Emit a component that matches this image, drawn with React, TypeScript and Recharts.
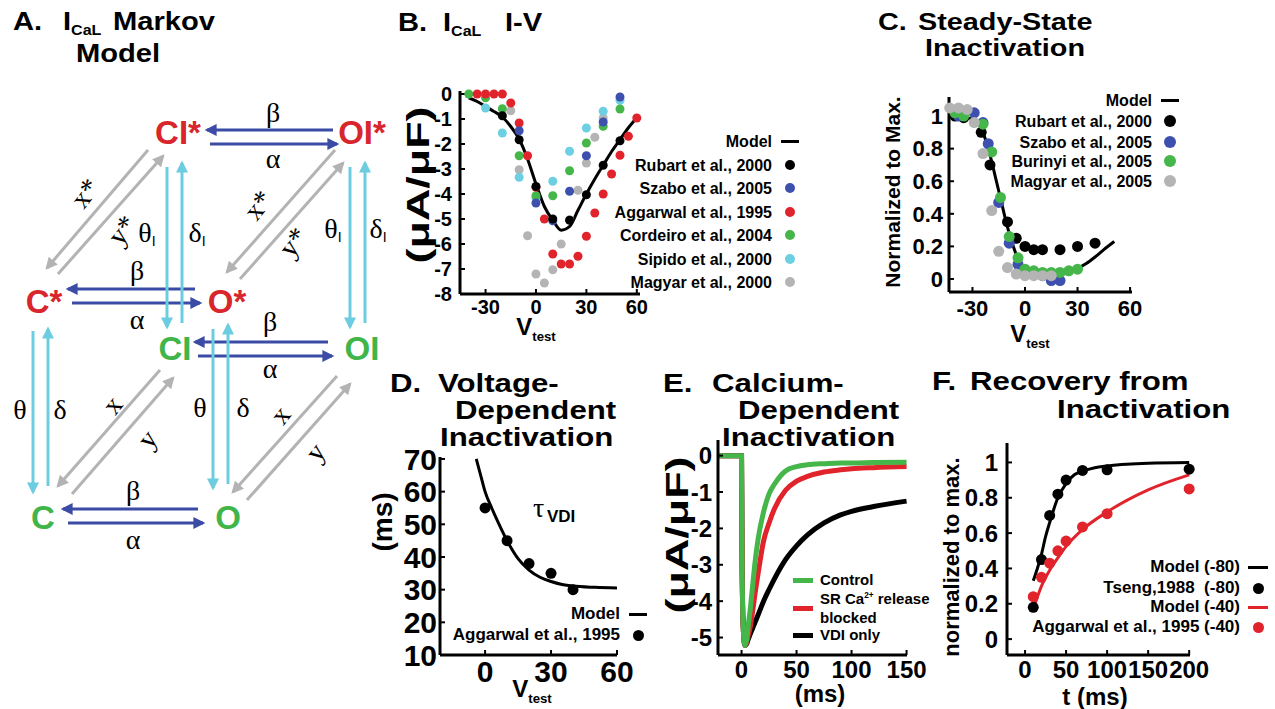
import React from 'react';
import { ComposedChart, Line, Scatter, XAxis, YAxis } from 'recharts';

const SANS = '"Liberation Sans", Arial, Helvetica, sans-serif';
const SERIF = '"Liberation Serif", "DejaVu Serif", Times, serif';

const INK = '#000000';
const RED = '#e1242b';
const BLUE = '#3e50ae';
const GREEN = '#45b649';
const CYAN = '#6ccfe2';
const GRAY = '#b4b4b4';
const ARROW_BLUE = '#3b4ca6';
const ARROW_GRAY = '#b3b3b3';
const ARROW_CYAN = '#6ccde0';
const NODE_RED = '#d8262c';
const NODE_GREEN = '#3fb54a';

// ---- B. ICaL I-V ----
const ivModelV = [-40, -35, -30, -25, -20, -15, -10, -5, 0, 5, 10, 15, 20, 25, 30, 35, 40, 45, 50, 55, 60];
const ivModelI = [-0.15, -0.3, -0.5, -0.7, -0.92, -1.3, -1.8, -2.6, -3.6, -4.5, -5.05, -5.45, -5.3, -4.65, -4.0, -3.4, -2.85, -2.3, -1.82, -1.35, -0.95];
const rubartV = [-20, -10, 0, 10, 20, 30, 40, 50];
const rubartI = [-0.87, -1.83, -3.7, -5.0, -5.05, -4.03, -2.85, -1.87];
const szaboV = [-10, 0, 10, 20, 30, 40, 50];
const szaboI = [-1.47, -4.36, -5.07, -3.89, -2.47, -1.12, -0.12];
const aggarwalV = [-35, -30, -25, -20, -15, -10, -5, 0, 5, 10, 15, 20, 25, 30, 35, 40, 45, 50, 55, 60];
const aggarwalI = [0, 0, 0, 0, -0.36, -1.16, -2.47, -3.73, -5.0, -6.4, -6.8, -6.8, -6.49, -5.69, -4.76, -4.0, -3.2, -2.45, -1.69, -0.96];
const cordeiroV = [-40, -30, -20, -10, 0, 10, 20, 30, 40, 50];
const cordeiroI = [0, -0.15, -0.59, -2.47, -4.07, -4.07, -3.07, -1.96, -1.29, -0.6];
const sipidoV = [-30, -20, -10, 0, 10, 20, 30, 40, 50];
const sipidoI = [-0.56, -1.56, -3.33, -4.16, -3.49, -2.29, -1.36, -0.69, -0.25];
const magyarIvV = [-15, -10, -5, 0, 5, 10, 15, 20, 25, 30, 35, 40];
const magyarIvI = [-0.67, -3.03, -5.67, -7.2, -7.56, -7.03, -6.0, -5.03, -3.85, -2.76, -1.73, -0.96];
const ivXTicks = [-30, 0, 30, 60];
const ivYTicks = [0, -1, -2, -3, -4, -5, -6, -7, -8];

// ---- C. Steady-state inactivation ----
const ssModelV = [-43, -35, -30, -27, -24, -21, -19, -17, -15, -13, -11, -9, -7, -5, -2, 0, 4, 8, 12, 16, 20, 25, 30, 35, 40, 45, 51];
const ssModelN = [1.0, 0.995, 0.98, 0.96, 0.9, 0.8, 0.72, 0.63, 0.54, 0.45, 0.36, 0.28, 0.21, 0.15, 0.085, 0.06, 0.03, 0.02, 0.015, 0.018, 0.025, 0.04, 0.065, 0.095, 0.135, 0.18, 0.23];
const ssRubartV = [-40, -35, -25, -20, -10, -5, 0, 5, 10, 20, 30, 40];
const ssRubartN = [1.0, 0.99, 0.9, 0.7, 0.35, 0.25, 0.2, 0.18, 0.18, 0.18, 0.2, 0.22];
const ssSzaboV = [-38, -29, -24, -21, -15, -9, -4, 0, 5, 10, 15, 20];
const ssSzaboN = [1.0, 1.02, 0.96, 0.83, 0.47, 0.22, 0.09, 0.05, 0.03, 0.02, -0.01, -0.01];
const ssBurinyiV = [-40, -35, -24, -19, -14, -9, -4, 0, 5, 10, 15, 20, 25, 30];
const ssBurinyiN = [1.02, 1.0, 0.95, 0.78, 0.5, 0.26, 0.13, 0.06, 0.05, 0.04, 0.04, 0.04, 0.05, 0.06];
const ssMagyarV = [-43, -38, -33, -29, -24, -19, -15, -10, -5, 0, 5, 10, 15];
const ssMagyarN = [1.05, 1.05, 1.04, 0.96, 0.77, 0.42, 0.17, 0.07, 0.03, 0.02, 0.02, 0.02, 0.02];
const ssXTicks = [-30, 0, 30, 60];
const ssYTicks = [0, 0.2, 0.4, 0.6, 0.8, 1];

// ---- D. Voltage-dependent inactivation ----
const vdiModelV = [-4, -2, 0, 3, 6, 10, 15, 20, 25, 30, 35, 40, 50, 60];
const vdiModelTau = [70, 65, 60, 55, 50.5, 45, 39.5, 36, 33.8, 32.5, 31.6, 31.1, 30.7, 30.5];
const vdiDataV = [0, 10, 20, 30, 40];
const vdiDataTau = [55, 45, 38, 35, 30];
const vdiXTicks = [0, 30, 60];
const vdiYTicks = [10, 20, 30, 40, 50, 60, 70];

// ---- E. Calcium-dependent inactivation ----
const cdiT = [-21, 0, 0.5, 1.5, 3, 5, 6, 8, 10, 12, 15, 20, 25, 30, 40, 50, 60, 75, 90, 100, 120, 150];
const cdiControl = [0, 0, -3.0, -4.7, -5.22, -5.0, -4.7, -4.2, -3.6, -3.0, -2.3, -1.55, -1.05, -0.78, -0.42, -0.3, -0.25, -0.22, -0.2, -0.2, -0.19, -0.18];
const cdiSrBlocked = [0, 0, -3.0, -4.7, -5.22, -5.1, -4.95, -4.7, -4.3, -3.85, -3.25, -2.35, -1.85, -1.45, -0.95, -0.7, -0.57, -0.45, -0.39, -0.36, -0.33, -0.3];
const cdiVdiOnly = [0, 0, -3.0, -4.7, -5.22, -5.15, -5.05, -4.9, -4.75, -4.6, -4.38, -4.0, -3.68, -3.38, -2.86, -2.48, -2.18, -1.85, -1.63, -1.53, -1.4, -1.25];
const cdiXTicks = [0, 50, 100, 150];
const cdiYTicks = [0, -1, -2, -3, -4, -5];

// ---- F. Recovery from inactivation ----
const recDataT = [10, 20, 30, 40, 50, 70, 100, 200];
const recTseng = [0.18, 0.45, 0.7, 0.82, 0.9, 0.955, 0.958, 0.962];
const recAggarwal = [0.24, 0.35, 0.43, 0.5, 0.555, 0.635, 0.71, 0.85];
const recModel80T = [10, 15, 20, 25, 30, 40, 50, 60, 70, 85, 100, 150, 200];
const recModel80 = [0.33, 0.4, 0.48, 0.58, 0.66, 0.8, 0.88, 0.93, 0.95, 0.97, 0.98, 0.995, 1.0];
const recModel40T = [10, 20, 30, 40, 50, 70, 100, 150, 200];
const recModel40 = [0.17, 0.3, 0.39, 0.46, 0.525, 0.62, 0.72, 0.845, 0.93];
const recXTicks = [0, 50, 100, 150, 200];
const recYTicks = [0, 0.2, 0.4, 0.6, 0.8, 1];

const zip = (xs: number[], ys: number[]) => xs.map((x, i) => ({ x, y: ys[i] }));

const dot = (color: string, r: number) => (p: any) =>
  p.cx == null ? <g /> : <circle cx={p.cx} cy={p.cy} r={r} fill={color} />;

type PanelProps = {
  left: number;
  top: number;
  right: number;
  bottom: number;
  xDomain: [number, number];
  yDomain: [number, number];
  xTicks: number[];
  yTicks: number[];
  tickFont: number;
  xGap: number;
  yGap: number;
  children: React.ReactNode;
};

function Panel(p: PanelProps) {
  const padL = 90;
  const padT = 25;
  const padR = 40;
  const padB = 50;
  const w = p.right - p.left + padL + padR;
  const h = p.bottom - p.top + padT + padB;
  const tick = { fill: INK, fontSize: p.tickFont, fontWeight: 700, fontFamily: SANS };
  const axisLine = { stroke: INK, strokeWidth: 3 };
  const tickLine = { stroke: INK, strokeWidth: 2 };
  return (
    <div style={{ position: 'absolute', left: p.left - padL, top: p.top - padT, width: w, height: h }}>
      <ComposedChart width={w} height={h} margin={{ top: padT, right: padR, bottom: 0, left: 0 }}>
        <XAxis
          type="number"
          dataKey="x"
          domain={p.xDomain}
          ticks={p.xTicks}
          interval={0}
          height={padB}
          axisLine={axisLine}
          tickLine={tickLine}
          tickSize={-5}
          tickMargin={p.xGap + 5}
          tick={tick}
        />
        <YAxis
          type="number"
          dataKey="y"
          domain={p.yDomain}
          ticks={p.yTicks}
          interval={0}
          width={padL}
          axisLine={axisLine}
          tickLine={tickLine}
          tickSize={-5}
          tickMargin={p.yGap + 5}
          tick={tick}
        />
        {p.children}
      </ComposedChart>
    </div>
  );
}

function T({ x, yc, size = 26, sx = 1.2, children }: { x: number; yc: number; size?: number; sx?: number; children: React.ReactNode }) {
  return (
    <div
      style={{
        position: 'absolute',
        left: x,
        top: yc - size * 0.49,
        fontSize: size,
        lineHeight: `${size}px`,
        fontWeight: 700,
        fontFamily: SANS,
        whiteSpace: 'nowrap',
        transform: `scaleX(${sx})`,
        transformOrigin: 'left center',
        color: INK,
      }}
    >
      {children}
    </div>
  );
}

function Sub({ children, size = '0.55em', drop = '0.35em' }: { children: React.ReactNode; size?: string; drop?: string }) {
  return <span style={{ fontSize: size, position: 'relative', top: drop }}>{children}</span>;
}

function Rot({ cx, cy, size, stretch = 1, children }: { cx: number; cy: number; size: number; stretch?: number; children: React.ReactNode }) {
  return (
    <div
      style={{
        position: 'absolute',
        left: cx,
        top: cy,
        fontSize: size,
        lineHeight: `${size}px`,
        fontWeight: 700,
        fontFamily: SANS,
        whiteSpace: 'nowrap',
        transform: `translate(-50%, -50%) rotate(-90deg) scaleX(${stretch})`,
      }}
    >
      {children}
    </div>
  );
}

function Center({ cx, cy, size, children }: { cx: number; cy: number; size: number; children: React.ReactNode }) {
  return (
    <div
      style={{
        position: 'absolute',
        left: cx,
        top: cy,
        fontSize: size,
        lineHeight: `${size}px`,
        fontWeight: 700,
        fontFamily: SANS,
        whiteSpace: 'nowrap',
        transform: 'translate(-50%, -50%)',
      }}
    >
      {children}
    </div>
  );
}

const Vtest = ({ cx, cy }: { cx: number; cy: number }) => (
  <Center cx={cx} cy={cy} size={24}>
    V<Sub size="0.55em" drop="0.45em">test</Sub>
  </Center>
);

type KeyRow = { label: React.ReactNode; kind: 'line' | 'dot' | 'none'; color: string; y: number };

function Key({ right, mx, rows, size, lw = 18, lh = 3, r = 5, alignLeft = false }: { right: number; mx: number; rows: KeyRow[]; size: number; lw?: number; lh?: number; r?: number; alignLeft?: boolean }) {
  return (
    <>
      {rows.map((row, i) => (
        <React.Fragment key={i}>
          <div
            style={{
              position: 'absolute',
              left: alignLeft ? right : right - 400,
              width: 400,
              top: row.y - size * 0.59,
              fontSize: size,
              lineHeight: `${size * 1.2}px`,
              fontWeight: 700,
              fontFamily: SANS,
              whiteSpace: 'nowrap',
              textAlign: alignLeft ? 'left' : 'right',
            }}
          >
            {row.label}
          </div>
          {row.kind === 'line' ? (
            <div style={{ position: 'absolute', left: mx - lw / 2, top: row.y - lh / 2, width: lw, height: lh, background: row.color }} />
          ) : row.kind === 'dot' ? (
            <div style={{ position: 'absolute', left: mx - r, top: row.y - r, width: 2 * r, height: 2 * r, borderRadius: '50%', background: row.color }} />
          ) : null}
        </React.Fragment>
      ))}
    </>
  );
}

// ---- A. Markov scheme (diagram, not data) ----
const schemeNodes = [
  { t: 'CI*', x: 178, y: 132, c: NODE_RED },
  { t: 'OI*', x: 362, y: 132, c: NODE_RED },
  { t: 'C*', x: 44, y: 301, c: NODE_RED },
  { t: 'O*', x: 227, y: 301, c: NODE_RED },
  { t: 'CI', x: 175, y: 348, c: NODE_GREEN },
  { t: 'OI', x: 362, y: 348, c: NODE_GREEN },
  { t: 'C', x: 43, y: 517, c: NODE_GREEN },
  { t: 'O', x: 228, y: 517, c: NODE_GREEN },
];

const schemeArrows: [number, number, number, number, string][] = [
  [333, 130, 207, 130, ARROW_BLUE], [210, 144, 337, 144, ARROW_BLUE],
  [195, 289, 68, 289, ARROW_BLUE], [72, 303, 200, 303, ARROW_BLUE],
  [328, 342, 195, 342, ARROW_BLUE], [198, 356, 332, 356, ARROW_BLUE],
  [198, 509, 63, 509, ARROW_BLUE], [68, 523, 203, 523, ARROW_BLUE],
  [167, 167, 167, 327, ARROW_CYAN], [182, 323, 182, 163, ARROW_CYAN],
  [350, 167, 350, 327, ARROW_CYAN], [365, 323, 365, 163, ARROW_CYAN],
  [33, 331, 33, 492, ARROW_CYAN], [48, 486, 48, 329, ARROW_CYAN],
  [213, 329, 213, 488, ARROW_CYAN], [228, 484, 228, 325, ARROW_CYAN],
  [148, 150, 47, 268, ARROW_GRAY], [58, 274, 163, 156, ARROW_GRAY],
  [335, 150, 227, 272, ARROW_GRAY], [240, 279, 343, 163, ARROW_GRAY],
  [160, 370, 58, 486, ARROW_GRAY], [72, 494, 173, 378, ARROW_GRAY],
  [337, 376, 233, 492, ARROW_GRAY], [247, 500, 350, 384, ARROW_GRAY],
];

const schemeRates: { t: string; x: number; y: number; sub?: string; rot?: number }[] = [
  { t: 'β', x: 273, y: 112 }, { t: 'α', x: 273, y: 158 },
  { t: 'β', x: 137, y: 270 }, { t: 'α', x: 137, y: 319 },
  { t: 'β', x: 270, y: 321 }, { t: 'α', x: 270, y: 368 },
  { t: 'β', x: 133, y: 490 }, { t: 'α', x: 133, y: 539 },
  { t: 'θ', x: 147, y: 232, sub: 'I' }, { t: 'δ', x: 197, y: 232, sub: 'I' },
  { t: 'θ', x: 333, y: 228, sub: 'I' }, { t: 'δ', x: 378, y: 228, sub: 'I' },
  { t: 'x*', x: 85, y: 193, rot: -52 }, { t: 'y*', x: 122, y: 230, rot: -52 },
  { t: 'x*', x: 258, y: 205, rot: -52 }, { t: 'y*', x: 293, y: 242, rot: -52 },
  { t: 'θ', x: 20, y: 409 }, { t: 'δ', x: 60, y: 409 },
  { t: 'θ', x: 200, y: 407 }, { t: 'δ', x: 243, y: 407 },
  { t: 'x', x: 112, y: 405, rot: -52 }, { t: 'y', x: 147, y: 439, rot: -52 },
  { t: 'x', x: 280, y: 415, rot: -52 }, { t: 'y', x: 315, y: 452, rot: -52 },
];

function Scheme() {
  const colors = [ARROW_BLUE, ARROW_CYAN, ARROW_GRAY];
  return (
    <svg width={400} height={600} style={{ position: 'absolute', left: 0, top: 0 }}>
      <defs>
        {colors.map((c, i) => (
          <marker key={c} id={`ah${i}`} viewBox="0 0 10 10" refX={8} refY={5} markerWidth={4.5} markerHeight={4} orient="auto" markerUnits="strokeWidth">
            <path d="M0,0 L10,5 L0,10 z" fill={c} />
          </marker>
        ))}
      </defs>
      {schemeArrows.map(([x1, y1, x2, y2, c], i) => (
        <line key={i} x1={x1} y1={y1} x2={x2} y2={y2} stroke={c} strokeWidth={3} markerEnd={`url(#ah${colors.indexOf(c)})`} />
      ))}
      {schemeRates.map((r, i) => (
        <text
          key={i}
          x={r.x}
          y={r.y}
          textAnchor="middle"
          dominantBaseline="central"
          fontFamily={SERIF}
          fontSize={28}
          fill={INK}
          transform={r.rot ? `rotate(${r.rot} ${r.x} ${r.y})` : undefined}
        >
          {r.t}
          {r.sub ? (
            <tspan fontFamily={SANS} fontSize={14} dy={9}>
              {r.sub}
            </tspan>
          ) : null}
        </text>
      ))}
      {schemeNodes.map((n) => (
        <text key={n.t} x={n.x} y={n.y} textAnchor="middle" dominantBaseline="central" fontFamily={SANS} fontWeight={700} fontSize={33} fill={n.c}>
          {n.t}
        </text>
      ))}
    </svg>
  );
}

export default function App() {
  return (
    <div style={{ position: 'absolute', left: 0, top: 0, width: 1275, height: 709, background: '#fff', overflow: 'hidden', fontFamily: SANS, color: INK }}>
      {/* A */}
      <T x={13} yc={21} sx={1.12}>A.</T>
      <T x={63} yc={21} sx={1.12}>
        I<Sub>CaL</Sub>
      </T>
      <T x={113} yc={21} sx={1.12}>Markov</T>
      <T x={76} yc={53} sx={1.12}>Model</T>
      <Scheme />

      {/* B */}
      <T x={398} yc={22} sx={1.12}>B.</T>
      <T x={443} yc={22} sx={1.12}>
        I<Sub>CaL</Sub>
      </T>
      <T x={505} yc={22} sx={1.12}>I-V</T>
      <Panel left={460} top={91} right={640} bottom={294} xDomain={[-45.2, 61.9]} yDomain={[-8, 0.12]} xTicks={ivXTicks} yTicks={ivYTicks} tickFont={20} xGap={6} yGap={8}>
        <Line data={zip(ivModelV, ivModelI)} dataKey="y" type="monotone" stroke={INK} strokeWidth={3} dot={false} activeDot={false} isAnimationActive={false} />
        <Scatter data={zip(magyarIvV, magyarIvI)} shape={dot(GRAY, 4.5)} isAnimationActive={false} />
        <Scatter data={zip(sipidoV, sipidoI)} shape={dot(CYAN, 4.5)} isAnimationActive={false} />
        <Scatter data={zip(cordeiroV, cordeiroI)} shape={dot(GREEN, 4.5)} isAnimationActive={false} />
        <Scatter data={zip(aggarwalV, aggarwalI)} shape={dot(RED, 4.5)} isAnimationActive={false} />
        <Scatter data={zip(szaboV, szaboI)} shape={dot(BLUE, 4.5)} isAnimationActive={false} />
        <Scatter data={zip(rubartV, rubartI)} shape={dot(INK, 4.5)} isAnimationActive={false} />
      </Panel>
      <Rot cx={418} cy={185} size={32} stretch={1.4}>(μA/μF)</Rot>
      <Vtest cx={536} cy={329} />
      <Key
        right={772}
        mx={790}
        size={16}
        rows={[
          { label: 'Model', kind: 'line', color: INK, y: 141 },
          { label: 'Rubart et al., 2000', kind: 'dot', color: INK, y: 165 },
          { label: 'Szabo et al., 2005', kind: 'dot', color: BLUE, y: 188 },
          { label: 'Aggarwal et al., 1995', kind: 'dot', color: RED, y: 212 },
          { label: 'Cordeiro et al., 2004', kind: 'dot', color: GREEN, y: 235 },
          { label: 'Sipido et al., 2000', kind: 'dot', color: CYAN, y: 259 },
          { label: 'Magyar et al., 2000', kind: 'dot', color: GRAY, y: 282 },
        ]}
      />

      {/* C */}
      <T x={878} yc={22} size={24}>C.</T>
      <T x={918} yc={22} size={24}>Steady-State</T>
      <T x={925} yc={48} size={24}>Inactivation</T>
      <Panel left={949} top={97} right={1132} bottom={292} xDomain={[-43.4, 61.1]} yDomain={[-0.08, 1.117]} xTicks={ssXTicks} yTicks={ssYTicks} tickFont={22} xGap={8} yGap={6}>
        <Line data={zip(ssModelV, ssModelN)} dataKey="y" type="monotone" stroke={INK} strokeWidth={3} dot={false} activeDot={false} isAnimationActive={false} />
        <Scatter data={zip(ssRubartV, ssRubartN)} shape={dot(INK, 5.5)} isAnimationActive={false} />
        <Scatter data={zip(ssSzaboV, ssSzaboN)} shape={dot(BLUE, 5.5)} isAnimationActive={false} />
        <Scatter data={zip(ssBurinyiV, ssBurinyiN)} shape={dot(GREEN, 5.5)} isAnimationActive={false} />
        <Scatter data={zip(ssMagyarV, ssMagyarN)} shape={dot(GRAY, 5.5)} isAnimationActive={false} />
      </Panel>
      <Rot cx={892} cy={192} size={21}>Normalized to Max.</Rot>
      <Vtest cx={1030} cy={336} />
      <Key
        right={1152}
        mx={1170}
        size={16}
        r={6}
        rows={[
          { label: 'Model', kind: 'line', color: INK, y: 100 },
          { label: 'Rubart et al., 2000', kind: 'dot', color: INK, y: 121 },
          { label: 'Szabo et al., 2005', kind: 'dot', color: BLUE, y: 142 },
          { label: 'Burinyi et al., 2005', kind: 'dot', color: GREEN, y: 161 },
          { label: 'Magyar et al., 2005', kind: 'dot', color: GRAY, y: 181 },
        ]}
      />

      {/* D */}
      <T x={390} yc={383}>D.</T>
      <T x={438} yc={383}>Voltage-</T>
      <T x={455} yc={410}>Dependent</T>
      <T x={440} yc={437}>Inactivation</T>
      <Panel left={440} top={457} right={617} bottom={655} xDomain={[-20.5, 60]} yDomain={[10, 70.6]} xTicks={vdiXTicks} yTicks={vdiYTicks} tickFont={30} xGap={6} yGap={3}>
        <Line data={zip(vdiModelV, vdiModelTau)} dataKey="y" type="monotone" stroke={INK} strokeWidth={3} dot={false} activeDot={false} isAnimationActive={false} />
        <Scatter data={zip(vdiDataV, vdiDataTau)} shape={dot(INK, 5.5)} isAnimationActive={false} />
      </Panel>
      <div style={{ position: 'absolute', left: 533, top: 494, fontFamily: SERIF, fontSize: 28, lineHeight: '28px' }}>τ</div>
      <div style={{ position: 'absolute', left: 547, top: 508, fontFamily: SANS, fontWeight: 700, fontSize: 17, lineHeight: '17px' }}>VDI</div>
      <Rot cx={383} cy={522} size={28}>(ms)</Rot>
      <Vtest cx={532} cy={691} />
      <Key
        right={620}
        mx={638}
        size={17}
        r={5.5}
        rows={[
          { label: 'Model', kind: 'line', color: INK, y: 614 },
          { label: 'Aggarwal et al., 1995', kind: 'dot', color: INK, y: 635 },
        ]}
      />

      {/* E */}
      <T x={663} yc={383}>E.</T>
      <T x={712} yc={383}>Calcium-</T>
      <T x={738} yc={410}>Dependent</T>
      <T x={722} yc={437}>Inactivation</T>
      <Panel left={718} top={440} right={907} bottom={655} xDomain={[-21.4, 150.4]} yDomain={[-5.48, 0.43]} xTicks={cdiXTicks} yTicks={cdiYTicks} tickFont={24} xGap={6} yGap={6}>
        <Line data={zip(cdiT, cdiVdiOnly)} dataKey="y" type="monotone" stroke={INK} strokeWidth={5} dot={false} activeDot={false} isAnimationActive={false} />
        <Line data={zip(cdiT, cdiSrBlocked)} dataKey="y" type="monotone" stroke={RED} strokeWidth={5} dot={false} activeDot={false} isAnimationActive={false} />
        <Line data={zip(cdiT, cdiControl)} dataKey="y" type="monotone" stroke={GREEN} strokeWidth={5} dot={false} activeDot={false} isAnimationActive={false} />
      </Panel>
      <Rot cx={677} cy={535} size={32} stretch={1.4}>(μA/μF)</Rot>
      <Center cx={820} cy={694} size={24}>(ms)</Center>
      <Key
        right={820}
        mx={803}
        size={15}
        lw={20}
        lh={5}
        alignLeft
        rows={[
          { label: 'Control', kind: 'line', color: GREEN, y: 580 },
          {
            label: (
              <span>
                SR Ca<sup style={{ fontSize: '0.55em', lineHeight: 0 }}>2+</sup> release
              </span>
            ),
            kind: 'none',
            color: RED,
            y: 599,
          },
          { label: 'blocked', kind: 'none', color: RED, y: 618 },
          { label: 'VDI only', kind: 'line', color: INK, y: 635 },
        ]}
      />
      <div style={{ position: 'absolute', left: 793, top: 606, width: 20, height: 5, background: RED }} />

      {/* F */}
      <T x={932} yc={381}>F.</T>
      <T x={970} yc={381}>Recovery from</T>
      <T x={1057} yc={409}>Inactivation</T>
      <Panel left={1007} top={443} right={1190} bottom={655} xDomain={[-22, 201]} yDomain={[-0.09, 1.11]} xTicks={recXTicks} yTicks={recYTicks} tickFont={24} xGap={6} yGap={9}>
        <Line data={zip(recModel80T, recModel80)} dataKey="y" type="monotone" stroke={INK} strokeWidth={3} dot={false} activeDot={false} isAnimationActive={false} />
        <Line data={zip(recModel40T, recModel40)} dataKey="y" type="monotone" stroke={RED} strokeWidth={3} dot={false} activeDot={false} isAnimationActive={false} />
        <Scatter data={zip(recDataT, recTseng)} shape={dot(INK, 5.5)} isAnimationActive={false} />
        <Scatter data={zip(recDataT, recAggarwal)} shape={dot(RED, 5.5)} isAnimationActive={false} />
      </Panel>
      <Rot cx={952} cy={557} size={22}>normalized to max.</Rot>
      <Center cx={1095} cy={697} size={24}>t (ms)</Center>
      <Key
        right={1240}
        mx={1258}
        size={17}
        lw={20}
        r={5.5}
        rows={[
          { label: 'Model (-80)', kind: 'line', color: INK, y: 567 },
          { label: 'Tseng,1988\u00a0\u00a0(-80)', kind: 'dot', color: INK, y: 588 },
          { label: 'Model (-40)', kind: 'line', color: RED, y: 607 },
          { label: 'Aggarwal et al., 1995 (-40)', kind: 'dot', color: RED, y: 627 },
        ]}
      />
    </div>
  );
}
